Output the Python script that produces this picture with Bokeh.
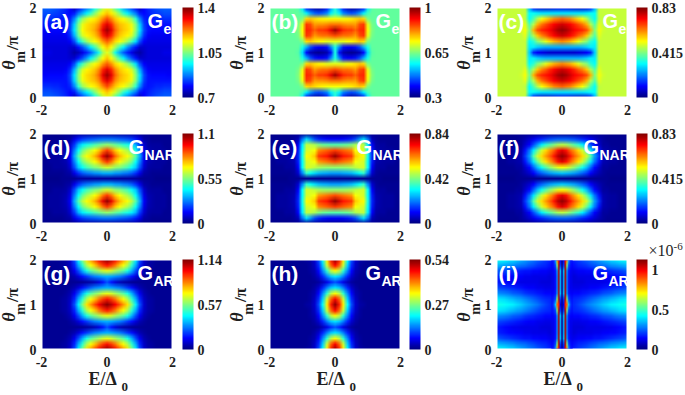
import base64, struct, zlib
import numpy as np
from bokeh.plotting import figure
from bokeh.layouts import column, row
from bokeh.models import Range1d, FixedTicker, LinearColorMapper, ColorBar, Label
from bokeh.embed import file_html
from bokeh.resources import INLINE

# Values, as percent of each panel's colour scale.
# Rows: theta/pi = 0 .. 1 by 1/8; columns: E = 0 .. 2 by 1/8 (panels are mirror-symmetric).
levels_a = [
 [60,56,46,38,30,24,18,12, 6,12,16,18,20,21,22,22,22],
 [68,64,58,50,42,36,30,24,15,13,15,17,18,19,20,20,20],
 [80,74,68,64,62,58,52,42,26,16,14,15,16,16,17,17,17],
 [90,84,74,69,67,65,60,50,33,19,14,14,14,14,14,14,14],
 [97,90,78,71,68,66,62,51,35,20,14,13,13,13,13,12,12],
 [90,84,74,68,65,63,58,47,30,17,12,11,11,11,11,11,11],
 [78,73,66,62,58,52,44,34,20,12,10,10,10,10,10,10,10],
 [68,62,54,44,36,28,20,14, 8, 8, 9, 9, 9, 9, 9, 9, 9],
 [60,54,40,30,22,16,10, 6, 4, 7, 9, 9, 9, 9,10,10,10]]
levels_b = [
 [40,28,14, 6, 3, 4, 8,14,36,46,47,47,47,47,47,47,47],
 [42,36,26,22,20,22,28,36,44,47,47,47,47,47,47,47,47],
 [62,62,62,63,64,66,68,66,50,47,47,47,47,47,47,47,47],
 [76,76,74,73,73,72,80,82,60,49,47,47,47,47,47,47,47],
 [97,90,84,82,82,78,83,84,62,50,47,47,47,47,47,47,47],
 [80,78,76,76,75,72,80,82,60,49,47,47,47,47,47,47,47],
 [60,60,60,62,63,65,68,66,50,47,47,47,47,47,47,47,47],
 [40,26,14,12,12,14,20,30,40,47,47,47,47,47,47,47,47],
 [40,14, 5, 3, 2, 3, 6,14,34,46,47,47,47,47,47,47,47]]
levels_c = [
 [10,10, 9, 8, 7, 8, 9,14,30,56,57,57,57,57,57,57,57],
 [35,35,35,35,35,35,36,38,38,57,57,57,57,57,57,57,57],
 [78,76,74,70,66,62,55,45,38,56,57,57,57,57,57,57,57],
 [92,90,88,84,80,76,70,55,46,60,57,57,57,57,57,57,57],
 [98,96,92,88,86,84,80,70,50,62,58,57,57,57,57,57,57],
 [92,90,87,83,78,74,68,54,46,60,57,57,57,57,57,57,57],
 [74,72,70,66,60,55,50,42,38,57,57,57,57,57,57,57,57],
 [30,30,30,30,30,31,33,36,36,57,57,57,57,57,57,57,57],
 [ 8, 8, 8, 8, 9,10,12,16,33,57,57,57,57,57,57,57,57]]
levels_d = [
 [ 3, 3, 3, 3, 3, 3, 3, 3, 2, 2, 2, 2, 1, 1, 1, 1, 1],
 [24,24,23,22,21,20,18,15,10, 4, 3, 2, 2, 2, 2, 2, 2],
 [52,50,48,45,42,40,36,30,18, 8, 4, 3, 3, 3, 2, 2, 2],
 [82,76,68,62,58,54,48,38,25,10, 5, 4, 3, 3, 3, 2, 2],
 [98,90,78,70,65,62,56,46,30,12, 6, 4, 3, 3, 3, 2, 2],
 [82,76,68,62,58,54,48,38,25,10, 5, 4, 3, 3, 3, 2, 2],
 [58,56,52,50,47,44,38,32,20, 8, 4, 3, 3, 3, 2, 2, 2],
 [30,30,28,27,25,24,21,17,10, 4, 3, 2, 2, 2, 2, 2, 2],
 [ 3, 3, 3, 3, 3, 3, 3, 3, 2, 2, 2, 2, 1, 1, 1, 1, 1]]
levels_e = [
 [ 2, 2, 2, 2, 2, 2, 2, 2, 2, 2, 2, 2, 1, 1, 1, 1, 1],
 [12,12,13,14,16,20,28,34,24, 6, 3, 2, 2, 2, 2, 2, 2],
 [46,46,47,48,50,54,56,56,36,12, 4, 3, 3, 2, 2, 2, 2],
 [82,80,78,76,74,62,60,58,38,15, 5, 4, 3, 3, 3, 2, 2],
 [98,92,86,84,82,68,64,62,40,16, 6, 4, 3, 3, 3, 2, 2],
 [80,78,76,74,72,62,60,58,38,15, 5, 4, 3, 3, 3, 2, 2],
 [52,52,52,53,54,56,58,58,38,12, 4, 3, 3, 2, 2, 2, 2],
 [28,28,29,30,31,34,38,42,26, 8, 3, 2, 2, 2, 2, 2, 2],
 [ 2, 2, 2, 2, 2, 2, 2, 2, 2, 2, 2, 2, 1, 1, 1, 1, 1]]
levels_f = [
 [ 2, 2, 2, 2, 2, 2, 2, 2, 2, 2, 2, 2, 1, 1, 1, 1, 1],
 [22,22,21,20,18,16,14,11, 8, 5, 3, 2, 2, 2, 2, 2, 2],
 [56,54,50,46,42,36,28,20,12, 8, 3, 3, 2, 2, 2, 2, 2],
 [90,86,78,72,66,58,48,36,24,14, 5, 4, 3, 3, 2, 2, 2],
 [98,94,86,78,72,66,58,46,28,18, 6, 4, 3, 3, 2, 2, 2],
 [90,86,78,71,65,57,47,35,23,14, 5, 4, 3, 3, 2, 2, 2],
 [62,60,56,51,45,39,31,22,13, 8, 3, 3, 2, 2, 2, 2, 2],
 [32,31,30,28,25,22,18,12, 8, 5, 3, 2, 2, 2, 2, 2, 2],
 [ 2, 2, 2, 2, 2, 2, 2, 2, 2, 2, 2, 2, 1, 1, 1, 1, 1]]
levels_g = [
 [99,94,88,80,72,65,50,36,20, 8, 4, 3, 2, 2, 2, 2, 2],
 [86,82,76,68,62,55,42,30,16, 7, 4, 3, 2, 2, 2, 2, 2],
 [60,58,54,50,46,40,30,20,11, 5, 3, 2, 2, 2, 2, 2, 2],
 [30,29,27,25,22,18,14, 9, 5, 3, 2, 2, 2, 2, 2, 2, 2],
 [20,14, 9, 6, 4, 3, 2, 2, 2, 2, 2, 2, 2, 2, 2, 2, 2],
 [30,29,27,25,22,18,14, 9, 5, 3, 2, 2, 2, 2, 2, 2, 2],
 [60,58,54,50,46,40,30,20,11, 5, 3, 2, 2, 2, 2, 2, 2],
 [86,82,76,68,62,55,42,30,16, 7, 4, 3, 2, 2, 2, 2, 2],
 [99,94,88,80,72,65,50,36,20, 8, 4, 3, 2, 2, 2, 2, 2]]
levels_h = [
 [98,85,64,38,20, 8, 4, 3, 2, 2, 2, 2, 2, 2, 2, 2, 2],
 [88,78,58,33,17, 7, 3, 2, 2, 2, 2, 2, 2, 2, 2, 2, 2],
 [62,56,42,26,13, 5, 3, 2, 2, 2, 2, 2, 2, 2, 2, 2, 2],
 [35,32,25,16, 8, 4, 2, 2, 2, 2, 2, 2, 2, 2, 2, 2, 2],
 [20,16,10, 6, 3, 2, 2, 2, 2, 2, 2, 2, 2, 2, 2, 2, 2],
 [35,32,25,16, 8, 4, 2, 2, 2, 2, 2, 2, 2, 2, 2, 2, 2],
 [62,56,42,26,13, 5, 3, 2, 2, 2, 2, 2, 2, 2, 2, 2, 2],
 [88,78,58,33,17, 7, 3, 2, 2, 2, 2, 2, 2, 2, 2, 2, 2],
 [98,85,64,38,20, 8, 4, 3, 2, 2, 2, 2, 2, 2, 2, 2, 2]]
levels_i = [
 [14,14,14,16,18,20,22,24,26,28,30,32,34,35,37,38,40],
 [12,12,13,14,16,17,18,20,21,23,24,25,27,28,29,30,31],
 [10,10,10,11,12,12,13,13,14,14,15,16,17,18,19,20,22],
 [ 9, 9, 9, 9,10,10,10,10,11,11,12,12,13,13,14,15,16],
 [ 9, 9, 9, 9, 9, 9,10,10,10,10,10,11,11,12,13,14,15],
 [10,10,10,10,10,11,11,12,12,13,14,15,16,17,18,19,20],
 [12,12,12,13,13,14,15,16,17,18,20,21,22,24,25,26,27],
 [14,14,15,16,17,18,20,22,24,26,28,29,31,32,34,35,36],
 [15,15,16,17,19,21,24,26,28,30,32,34,36,37,38,39,40]]
# Panel (i), fine strip around E = 0: columns E = 0 .. 0.3 by 0.05.
levels_i_center = [
 [ 2,12,88,72,30,17,14],
 [ 2,18,95,50,20,15,13],
 [ 2,32,95,28,15,12,11],
 [ 2,30,95,26,14,11,10],
 [ 2,30,95,26,14,11,10],
 [ 2,30,95,26,14,11,11],
 [ 2,32,95,28,15,13,12],
 [ 2,18,95,50,20,16,14],
 [ 3,10,85,76,32,20,15]]

panel_names = ["(a)", "(b)", "(c)", "(d)", "(e)", "(f)", "(g)", "(h)", "(i)"]
panel_main = [levels_a, levels_b, levels_c, levels_d, levels_e, levels_f, levels_g, levels_h, levels_i]
scale_low = [0.7, 0.3, 0, 0, 0, 0, 0, 0, 0]
scale_high = [1.4, 1.0, 0.83, 1.1, 0.84, 0.83, 1.14, 0.54, 1.13]
bar_ticks = [[0.7, 1.05, 1.4], [0.3, 0.65, 1.0], [0, 0.415, 0.83],
             [0, 0.55, 1.1], [0, 0.42, 0.84], [0, 0.415, 0.83],
             [0, 0.57, 1.14], [0, 0.27, 0.54], [0, 0.5, 1]]
bar_labels = [["0.7", "1.05", "1.4"], ["0.3", "0.65", "1"], ["0", "0.415", "0.83"],
              ["0", "0.55", "1.1"], ["0", "0.42", "0.84"], ["0", "0.415", "0.83"],
              ["0", "0.57", "1.14"], ["0", "0.27", "0.54"], ["0", "0.5", "1"]]
sub_text = ["e", "e", "e", "NAR", "NAR", "NAR", "AR", "AR", "AR"]
x_ticks = [-2, 0, 2]
y_ticks = [0, 1, 2]

FW, FH = 131, 90
PAGE_W, PAGE_H = 685, 395
SERIF = "Liberation Serif"
SANS = "Liberation Sans"
INK = "#1f1f1f"
col_left = [0, 228, 455]
row_top = [0, 126, 252]
col_right = [56, 55, 58]
bar_gap = [10, 9, 9]


def jet():
    t = np.linspace(0, 1, 256)
    r = np.clip(np.minimum(4 * t - 1.5, -4 * t + 4.5), 0, 1)
    g = np.clip(np.minimum(4 * t - 0.5, -4 * t + 3.5), 0, 1)
    b = np.clip(np.minimum(4 * t + 0.5, -4 * t + 2.5), 0, 1)
    return np.stack([r, g, b], axis=1)


JET = (jet() * 255).astype(np.uint8)
PALETTE = ["#%02x%02x%02x" % tuple(int(v) for v in c) for c in JET]


def unfold(levels):
    q = np.array(levels, dtype=float)
    q = np.hstack([q[:, :0:-1], q])
    return np.vstack([q, q[-2::-1]])


def png_url(levels):
    """The cells, coloured by the colour scale; the browser scales the raster smoothly."""
    q = unfold(levels)
    rgb = JET[np.clip(np.round(q / 100 * 255).astype(int), 0, 255)][::-1]
    h, w, _ = rgb.shape
    raw = b"".join(b"\x00" + rgb[i].tobytes() for i in range(h))

    def chunk(tag, data):
        body = tag + data
        return struct.pack(">I", len(data)) + body + struct.pack(">I", zlib.crc32(body))

    png = (b"\x89PNG\r\n\x1a\n" + chunk(b"IHDR", struct.pack(">IIBBBBB", w, h, 8, 2, 0, 0, 0))
           + chunk(b"IDAT", zlib.compress(raw)) + chunk(b"IEND", b""))
    return "data:image/png;base64," + base64.b64encode(png).decode()


# Transparent sheet over the whole page for the texts that lie outside a panel's frame.
sheet = figure(width=PAGE_W, height=PAGE_H, x_range=Range1d(0, PAGE_W), y_range=Range1d(PAGE_H, 0),
               x_axis_location=None, y_axis_location=None, toolbar_location=None, output_backend="svg", tools="",
               min_border=0, outline_line_color=None, background_fill_alpha=0, border_fill_alpha=0,
               margin=(-PAGE_H, 0, 0, 0))
sheet.grid.visible = False


def text(px, py, s, size, font=SERIF, style="bold", color=INK, angle=0, align="left", base="middle"):
    sheet.add_layout(Label(x=px, y=py, text=s, text_font=font, text_font_style=style,
                           text_font_size=f"{size}px", text_color=color, angle=angle, angle_units="deg",
                           text_align=align, text_baseline=base))


rows = []
for r in range(3):
    cells = []
    for c in range(3):
        k = 3 * r + c
        bottom = 46 if r == 2 else 29
        p = figure(frame_width=FW, frame_height=FH, width=41 + FW + col_right[c], height=7 + FH + bottom,
                   min_border_left=41, min_border_right=col_right[c], min_border_top=7, min_border_bottom=bottom,
                   x_range=Range1d(-2, 2), y_range=Range1d(0, 2),
                   toolbar_location=None, output_backend="svg", tools="",
                   outline_line_color=None, background_fill_color="white", border_fill_color="white")
        p.grid.visible = False
        lo, hi = scale_low[k], scale_high[k]
        mapper = LinearColorMapper(palette=PALETTE, low=lo, high=hi)
        p.image_url(url=[png_url(panel_main[k])], x=-2.0625, y=-0.0625, w=4.125, h=2.125, anchor="bottom_left")
        if k == 8:
            p.image_url(url=[png_url(levels_i_center)], x=-0.325, y=-0.0625, w=0.65, h=2.125, anchor="bottom_left")
        for ax, ticks, standoff in ((p.xaxis[0], x_ticks, 7), (p.yaxis[0], y_ticks, 5)):
            ax.ticker = FixedTicker(ticks=ticks)
            ax.major_label_overrides = {t: str(t) for t in ticks}
            ax.axis_line_color = None
            ax.major_tick_line_color = None
            ax.minor_tick_line_color = None
            ax.major_tick_in = 0
            ax.major_tick_out = 0
            ax.major_label_text_font = SERIF
            ax.major_label_text_font_style = "bold"
            ax.major_label_text_font_size = "14px"
            ax.major_label_text_color = INK
            ax.major_label_standoff = standoff
        bar = ColorBar(color_mapper=mapper, ticker=FixedTicker(ticks=bar_ticks[k]),
                       major_label_overrides=dict(zip(bar_ticks[k], bar_labels[k])),
                       location=(FW + bar_gap[c], 0), width=11, height=FH, padding=0, margin=0,
                       major_tick_line_color=None, minor_tick_line_color=None, bar_line_color=None,
                       major_label_text_font=SERIF, major_label_text_font_style="bold",
                       major_label_text_font_size="14px", major_label_text_color=INK,
                       label_standoff=4, background_fill_alpha=0, border_line_color=None)
        p.add_layout(bar)
        fx, fy = col_left[c] + 41, row_top[r] + 7
        # y axis title
        text(fx - 33, fy + 57.5, "θ", 18, style="bold italic", angle=90, align="center")
        text(fx - 21, fy + 49.5, "m", 14, angle=90, align="center")
        text(fx - 29, fy + 35.5, "/π", 17, angle=90, align="center")
        # panel letter and quantity
        text(fx + 2, fy + 14, panel_names[k], 21, font=SANS, color="white")
        sub = sub_text[k]
        g_dx = {"e": 106, "NAR": 87, "AR": 96}[sub]
        text(fx + g_dx, fy + 13, "G", 20, font=SANS, color="white")
        text(fx + g_dx + 16, fy + 21, sub, 14, font=SANS, color="white")
        if r == 2:
            text(fx + 47, fy + 119, "E/Δ", 18)
            text(fx + 80, fy + 127, "0", 13)
        if k == 8:
            text(fx + 152, fy - 9, "×10", 16, style="normal")
            text(fx + 177, fy - 13, "-6", 11, style="normal")
        cells.append(p)
    rows.append(row(*cells, spacing=0))

page = column(*rows, sheet, spacing=0)
open("out.html", "w").write(file_html(page, INLINE))
